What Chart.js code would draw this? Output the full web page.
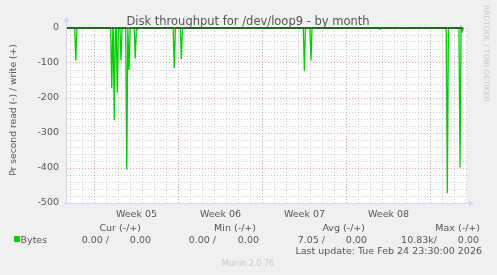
<!DOCTYPE html>
<html>
<head>
<meta charset="utf-8">
<script src="https://cdn.jsdelivr.net/npm/chart.js@4/dist/chart.umd.min.js"></script>
<style>
  html, body { margin: 0; padding: 0; background: #f0f0f0; }
  #wrap { width: 497px; height: 275px; position: relative; }
</style>
</head>
<body>
<div id="wrap"><canvas id="chart"></canvas></div>
<script>
// values; x is days from the left edge of the graph
const spikeDays   = [0.73, 3.73, 3.94, 4.19, 4.50, 4.98, 5.17, 5.69, 5.83, 8.94, 9.53, 19.78, 20.33, 26.08, 31.69, 32.75, 32.94];
const spikeValues = [-93, -172, -263, -185, -93, -404, -120, -87, -5, -115, -89, -122, -93, -3, -472, -398, -10];
const dataEnd = 33.0;
const xMax = 33.33;
const weekStarts = [2.29, 9.29, 16.29, 23.29, 30.29];
const weekLabels = ['Week 05', 'Week 06', 'Week 07', 'Week 08'];
const yMin = -500, yMax = 0;

const legendHeads = ['Cur (-/+)', 'Min (-/+)', 'Avg (-/+)', 'Max (-/+)'];
const legendRead  = ['0.00 /', '0.00 /', '7.05 /', '10.83k/'];
const legendWrite = ['0.00', '0.00', '0.00', '0.00'];

const FONT = '"DejaVu Sans", sans-serif';
const TXT = '#555';

// spike line: drop to value and straight back to zero
const readPoints = [{ x: 0, y: 0 }];
spikeDays.forEach((d, i) => {
  readPoints.push({ x: d - 0.09, y: 0 }, { x: d, y: spikeValues[i] }, { x: d + 0.09, y: 0 });
});
readPoints.push({ x: dataEnd, y: 0 });

const isWeek = v => weekStarts.some(w => Math.abs(w - v) < 0.01);

const rrdDecor = {
  id: 'rrdDecor',
  beforeDraw(chart) {
    const { ctx, chartArea: a } = chart;
    ctx.save();
    ctx.fillStyle = '#fff';
    ctx.fillRect(a.left, a.top, a.right - a.left, a.bottom - a.top);
    ctx.restore();
  },
  afterDraw(chart) {
    const { ctx, chartArea: a } = chart;
    const xs = chart.scales.x;
    ctx.save();

    // axes + arrows
    ctx.strokeStyle = '#cfd6f8';
    ctx.fillStyle = '#cfd6f8';
    ctx.lineWidth = 1;
    ctx.beginPath();
    ctx.moveTo(a.left - 0.5, a.bottom + 2); ctx.lineTo(a.left - 0.5, a.top - 8);
    ctx.moveTo(a.left - 3, a.bottom + 0.5); ctx.lineTo(a.right + 3, a.bottom + 0.5);
    ctx.stroke();
    ctx.beginPath();
    ctx.moveTo(a.left - 3.5, a.top - 6); ctx.lineTo(a.left + 2.5, a.top - 6); ctx.lineTo(a.left - 0.5, a.top - 11);
    ctx.closePath(); ctx.fill();
    ctx.beginPath();
    ctx.moveTo(a.right + 2, a.bottom - 2.5); ctx.lineTo(a.right + 2, a.bottom + 3.5); ctx.lineTo(a.right + 7, a.bottom + 0.5);
    ctx.closePath(); ctx.fill();

    // title
    ctx.fillStyle = TXT;
    ctx.font = '11.5px ' + FONT;
    ctx.textAlign = 'center';
    ctx.textBaseline = 'alphabetic';
    ctx.fillText('Disk throughput for /dev/loop9 - by month', 248, 25);

    // week labels, centred between week lines
    ctx.font = '9.5px ' + FONT;
    weekLabels.forEach((lab, i) => {
      const mid = (weekStarts[i] + weekStarts[i + 1]) / 2;
      ctx.fillText(lab, xs.getPixelForValue(mid), 216.5);
    });

    // y axis title
    ctx.save();
    ctx.font = '9.2px ' + FONT;
    ctx.translate(15.5, 110);
    ctx.rotate(-Math.PI / 2);
    ctx.fillText('Pr second read (-) / write (+)', 0, 0);
    ctx.restore();

    // watermark
    ctx.save();
    ctx.fillStyle = '#c8c8c8';
    ctx.font = '7.5px ' + FONT;
    ctx.translate(484, 5);
    ctx.rotate(Math.PI / 2);
    ctx.textAlign = 'left';
    ctx.fillText('RRDTOOL / TOBI OETIKER', 0, 0);
    ctx.restore();

    // legend
    ctx.fillStyle = '#00cc00';
    ctx.fillRect(14, 236, 6, 6);
    ctx.fillStyle = TXT;
    ctx.textAlign = 'left';
    ctx.fillText('Bytes', 20.5, 242.5);
    ctx.textAlign = 'right';
    const headX = [141, 256, 365, 480];
    const readX = [109, 216, 325, 437];
    const writeX = [151, 259, 367, 479];
    legendHeads.forEach((h, i) => ctx.fillText(h, headX[i], 231));
    legendRead.forEach((t, i) => ctx.fillText(t, readX[i], 242.5));
    legendWrite.forEach((t, i) => ctx.fillText(t, writeX[i], 242.5));
    ctx.fillText('Last update: Tue Feb 24 23:30:00 2026', 482, 254);

    ctx.fillStyle = '#c8c8c8';
    ctx.font = '8px ' + FONT;
    ctx.textAlign = 'center';
    ctx.fillText('Munin 2.0.76', 248, 266);
    ctx.restore();
  }
};

new Chart(document.getElementById('chart'), {
  type: 'line',
  data: {
    datasets: [
      {
        label: 'zero',
        data: [{ x: 0, y: 0 }, { x: dataEnd, y: 0 }],
        borderColor: '#000',
        borderWidth: 1,
        pointRadius: 0,
        clip: 3
      },
      {
        label: 'Bytes',
        data: readPoints,
        borderColor: '#00cc00',
        borderWidth: 1.3,
        pointRadius: 0,
        tension: 0,
        clip: 3
      }
    ]
  },
  options: {
    responsive: true,
    maintainAspectRatio: false,
    animation: false,
    events: [],
    layout: { padding: { top: 28, right: 30, left: 0, bottom: 0 } },
    plugins: { legend: { display: false }, tooltip: { enabled: false } },
    scales: {
      x: {
        type: 'linear',
        min: 0,
        max: xMax,
        afterBuildTicks: s => {
          const t = [];
          for (let d = 0.29; d < xMax; d += 1) t.push({ value: +d.toFixed(2) });
          s.ticks = t;
        },
        afterFit: s => { s.height = 72; },
        ticks: { display: false, autoSkip: false },
        grid: {
          drawTicks: false,
          color: c => isWeek(c.tick.value) ? 'rgba(235,80,80,0.55)' : 'rgba(150,150,150,0.45)'
        },
        border: { display: false, dash: [1, 2] }
      },
      y: {
        min: yMin,
        max: yMax,
        afterBuildTicks: s => {
          const t = [];
          for (let v = yMin; v <= yMax; v += 20) t.push({ value: v });
          s.ticks = t;
        },
        afterFit: s => { s.width = 67; },
        ticks: {
          autoSkip: false,
          padding: 8,
          color: TXT,
          font: { family: 'DejaVu Sans', size: 9.5 },
          callback: v => (v % 100 === 0 ? String(v) : '')
        },
        grid: {
          drawTicks: false,
          color: c => c.tick.value % 100 === 0 ? 'rgba(235,80,80,0.55)' : 'rgba(150,150,150,0.45)'
        },
        border: { display: false, dash: [1, 2] }
      }
    }
  },
  plugins: [rrdDecor]
});
</script>
</body>
</html>
